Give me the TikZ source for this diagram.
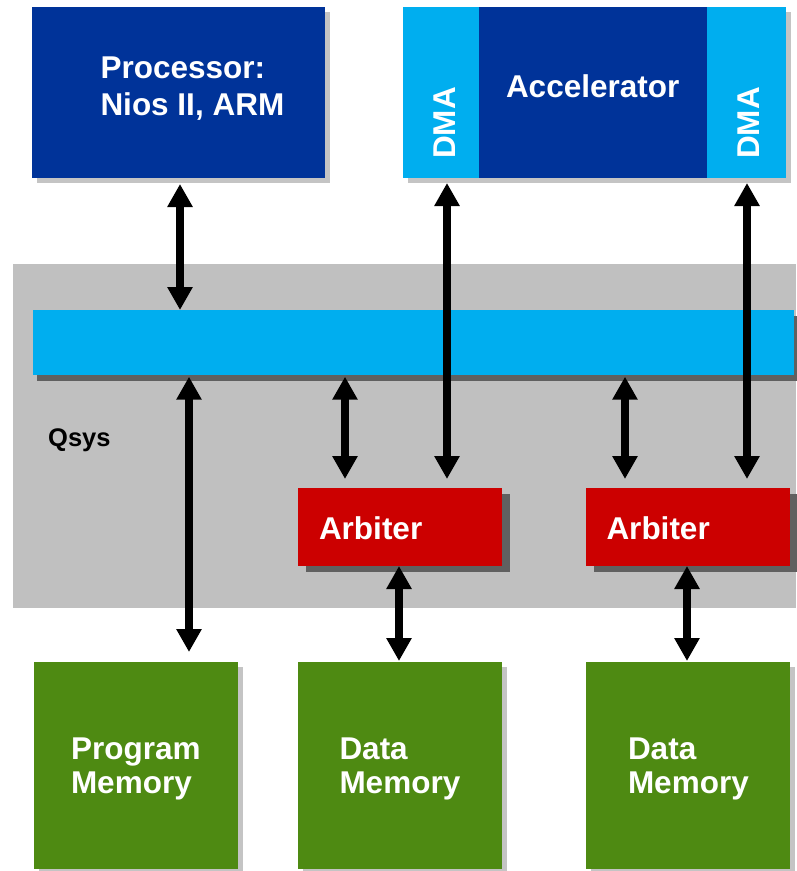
\documentclass[tikz,border=0pt]{standalone}
\usepackage{fontspec}
\setmainfont{Liberation Sans}
\usetikzlibrary{arrows.meta,shadows,calc}

\definecolor{procblue}{RGB}{0,51,153}
\definecolor{dmablue}{RGB}{0,174,239}
\definecolor{arbred}{RGB}{204,0,0}
\definecolor{memgreen}{RGB}{78,138,18}
\definecolor{qsysgray}{RGB}{192,192,192}
\definecolor{lightshade}{RGB}{196,196,196}
\definecolor{darkshade}{RGB}{96,96,96}

\tikzset{
  box/.style={rectangle, inner sep=0pt, outer sep=0pt, anchor=north west},
  softshadow/.style={general shadow={fill=lightshade, shadow xshift=5pt, shadow yshift=-5pt}},
  busshadow/.style={general shadow={fill=darkshade, shadow xshift=4pt, shadow yshift=-6pt}},
  arbshadow/.style={general shadow={fill=darkshade, shadow xshift=8pt, shadow yshift=-6pt}},
  label/.style={inner sep=0pt, outer sep=0pt, text=white,
    font=\bfseries\fontsize{31.5}{37}\selectfont},
  memlabel/.style={label, font=\bfseries\fontsize{31.5}{34}\selectfont},
  link/.style={line width=7.5pt, {Triangle[width=24pt,length=23pt]}-{Triangle[width=24pt,length=23pt]}},
}

\begin{document}
\begin{tikzpicture}[x=1pt, y=-1pt]
\useasboundingbox (0,0) rectangle (796,871);

% Qsys interconnect region
\node[box, fill=qsysgray, minimum width=783pt, minimum height=344pt] (qsys) at (13,264) {};
\node[inner sep=0pt, anchor=base west, font=\bfseries\fontsize{25.5}{30}\selectfont] (qsyslbl) at (48,446) {Qsys};

% processor
\node[box, fill=procblue, softshadow, minimum width=293pt, minimum height=171pt] (proc) at (32,7) {};
\node[label, anchor=base west] (proclbl) at (100.5,78.5)
  {\begin{tabular}[t]{@{}l@{}}Processor:\\Nios II, ARM\end{tabular}};

% accelerator with its two DMA engines
\node[box, fill=procblue, softshadow, minimum width=383pt, minimum height=171pt] (acc) at (403,7) {};
\node[box, fill=dmablue, minimum width=76pt, minimum height=171pt] (dmaL) at (403,7) {};
\node[box, fill=dmablue, minimum width=79pt, minimum height=171pt] (dmaR) at (707,7) {};
\node[label, anchor=base west] (acclbl) at (506,97) {Accelerator};
\node[label, rotate=90, anchor=base] (dmaLlbl) at (455,123) {DMA};
\node[label, rotate=90, anchor=base] (dmaRlbl) at (759,123) {DMA};

% system bus
\node[box, fill=dmablue, busshadow, minimum width=761pt, minimum height=64.7pt] (bus) at (33,310) {};

% arbiters
\node[box, fill=arbred, arbshadow, minimum width=204pt, minimum height=78pt] (arbA) at (298,488) {};
\node[box, fill=arbred, arbshadow, minimum width=204pt, minimum height=78pt] (arbB) at (586,488) {};
\node[label, anchor=base west] (arbAlbl) at (319,539) {Arbiter};
\node[label, anchor=base west] (arbBlbl) at (606.5,539) {Arbiter};

% memories
\node[box, fill=memgreen, softshadow, minimum width=204pt, minimum height=207pt] (pmem) at (34,662) {};
\node[box, fill=memgreen, softshadow, minimum width=204pt, minimum height=207pt] (dmemA) at (298,662) {};
\node[box, fill=memgreen, softshadow, minimum width=204pt, minimum height=207pt] (dmemB) at (586,662) {};
\node[memlabel, anchor=base west] (pmemlbl) at (71,759)
  {\begin{tabular}[t]{@{}l@{}}Program\\Memory\end{tabular}};
\node[memlabel, anchor=base west] (dmemAlbl) at (339.5,759)
  {\begin{tabular}[t]{@{}l@{}}Data\\Memory\end{tabular}};
\node[memlabel, anchor=base west] (dmemBlbl) at (628,759)
  {\begin{tabular}[t]{@{}l@{}}Data\\Memory\end{tabular}};

% connections
\draw[link] ($(proc.south)+(1.5,6)$) -- ($(proc.south |- bus.north)+(1.5,0)$);
\draw[link] ($(dmaL.south)+(6,5)$) -- ($(dmaL.south |- arbA.north)+(6,-9)$);
\draw[link] ($(dmaR.south)+(0.5,5)$) -- ($(dmaR.south |- arbB.north)+(0.5,-9)$);
\draw[link] ($(arbA.north |- bus.south)+(-55,2)$) -- ($(arbA.north)+(-55,-9)$);
\draw[link] ($(arbB.north |- bus.south)+(-63,2)$) -- ($(arbB.north)+(-63,-9)$);
\draw[link] ($(pmem.north |- bus.south)+(53,2)$) -- ($(pmem.north)+(53,-10)$);
\draw[link] ($(arbA.south)+(-1,0)$) -- ($(arbA.south |- dmemA.north)+(-1,-1)$);
\draw[link] ($(arbB.south)+(-1,0)$) -- ($(arbB.south |- dmemB.north)+(-1,-1)$);
\end{tikzpicture}
\end{document}
